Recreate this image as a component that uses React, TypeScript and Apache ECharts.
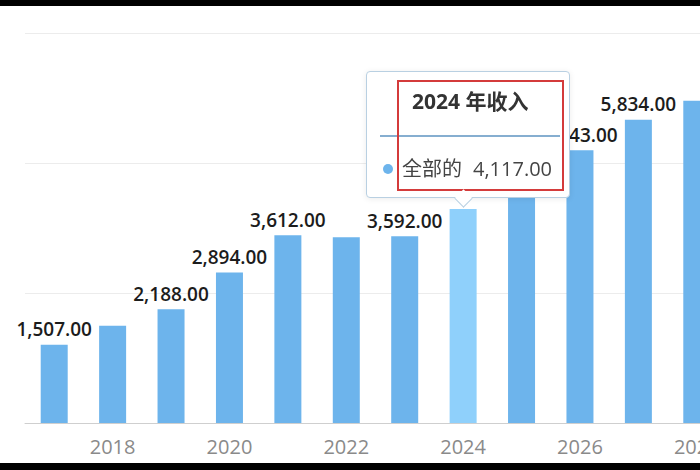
import React, { useEffect, useRef } from "react";
import * as echarts from "echarts";

const years = ["2017", "2018", "2019", "2020", "2021", "2022", "2023", "2024", "2025", "2026", "2027", "2028"];
const revenue = [1507, 1872, 2188, 2894, 3612, 3570, 3592, 4117, 4690, 5243, 5834, 6195];
// labels the original layout dropped (overlap / under tooltip / off the edge)
const hiddenLabelYears = ["2018", "2022", "2024", "2025", "2028"];
const highlightYear = "2024";
const seriesName = "全部的";
const titleSuffix = "年收入";
const yMax = 7500;
const yStep = 2500;

const BAR = "#6db4ec";
const BAR_HI = "#8fd0fb";
const TIP_BORDER = "#b9d0e2";
const FONT = "'Open Sans', 'Noto Sans CJK SC', sans-serif";

const TIP_W = 202;
const TIP_H = 125;

const fmt = (v: number) =>
  v.toLocaleString("en-US", { minimumFractionDigits: 2, maximumFractionDigits: 2 });

const tooltipHtml = (year: string, value: number) => `
<div style="position:relative;width:${TIP_W}px;height:${TIP_H}px;font-family:${FONT};color:#333;">
  <div style="position:absolute;left:45px;top:15px;font-size:21px;font-weight:700;line-height:28px;white-space:nowrap;">${year} ${titleSuffix}</div>
  <div style="position:absolute;left:13px;top:63px;width:180px;height:2px;background:#86aed0;"></div>
  <div style="position:absolute;left:16px;top:92px;width:10px;height:10px;border-radius:50%;background:${BAR};"></div>
  <div style="position:absolute;left:35px;top:83px;font-size:20px;line-height:28px;color:#444;white-space:nowrap;">${seriesName}</div>
  <div style="position:absolute;left:106px;top:83px;font-size:20px;line-height:28px;color:#444;white-space:nowrap;">${fmt(value)}</div>
  <div style="position:absolute;left:30px;top:8px;width:163px;height:107px;border:2px solid #d43b3b;"></div>
  <div style="position:absolute;left:90px;top:120px;width:12px;height:12px;background:#fff;border-right:1px solid ${TIP_BORDER};border-bottom:1px solid ${TIP_BORDER};transform:rotate(45deg);"></div>
</div>`;

const App: React.FC = () => {
  const chartRef = useRef<HTMLDivElement | null>(null);

  useEffect(() => {
    if (!chartRef.current) return;
    const chart = echarts.init(chartRef.current, undefined, { renderer: "svg" });
    const evenYear = (_: number, v: string) => Number(v) % 2 === 0;

    chart.setOption({
      animation: false,
      grid: { left: 25, right: 14, top: 33, bottom: 47 },
      xAxis: {
        type: "category",
        data: years,
        axisLine: { lineStyle: { color: "#cfcfcf", width: 1 } },
        axisTick: { alignWithLabel: true, interval: evenYear, length: 12, lineStyle: { color: "#cfcfcf" } },
        axisLabel: { interval: evenYear, color: "#8a8a8a", fontSize: 20, fontFamily: FONT, margin: 13 },
      },
      yAxis: {
        type: "value",
        min: 0,
        max: yMax,
        interval: yStep,
        axisLabel: { show: false },
        axisLine: { show: false },
        axisTick: { show: false },
        splitLine: { lineStyle: { color: "#ececec", width: 1 } },
      },
      tooltip: {
        trigger: "item",
        triggerOn: "none",
        alwaysShowContent: true,
        padding: 0,
        backgroundColor: "#fff",
        borderColor: TIP_BORDER,
        borderWidth: 1,
        borderRadius: 4,
        extraCssText: "box-shadow: 0 1px 6px rgba(0,0,0,0.08);",
        position: (point: number[], _p: any, _d: any, rect: any, size: any) => {
          const [w, h] = size.contentSize;
          if (!rect) return [point[0] - w / 2, point[1] - h - 11];
          return [rect.x + rect.width / 2 - w / 2 + 5, rect.y - h - 11];
        },
        formatter: (p: any) => tooltipHtml(p.name, p.value),
      },
      series: [
        {
          name: seriesName,
          type: "bar",
          barWidth: 27,
          itemStyle: { color: BAR },
          label: {
            show: true,
            position: "top",
            distance: 6,
            color: "#1c1c1c",
            fontSize: 19,
            fontWeight: 600,
            fontFamily: FONT,
            formatter: (p: any) => fmt(p.value),
          },
          data: revenue.map((v, i) => ({
            value: v,
            itemStyle: years[i] === highlightYear ? { color: BAR_HI } : undefined,
            label: hiddenLabelYears.includes(years[i]) ? { show: false } : undefined,
          })),
        },
      ],
    });

    chart.dispatchAction({ type: "showTip", seriesIndex: 0, dataIndex: years.indexOf(highlightYear) });

    return () => {
      chart.dispose();
    };
  }, []);

  return (
    <div
      style={{
        position: "fixed",
        left: 0,
        top: 0,
        width: 700,
        height: 470,
        overflow: "hidden",
        background: "#fff",
      }}
    >
      <div ref={chartRef} style={{ position: "absolute", left: 0, top: 0, width: 740, height: 470 }} />
      <div style={{ position: "absolute", left: 0, top: 0, width: 700, height: 6, background: "#000" }} />
      <div style={{ position: "absolute", left: 0, top: 463, width: 700, height: 7, background: "#000" }} />
    </div>
  );
};

export default App;
